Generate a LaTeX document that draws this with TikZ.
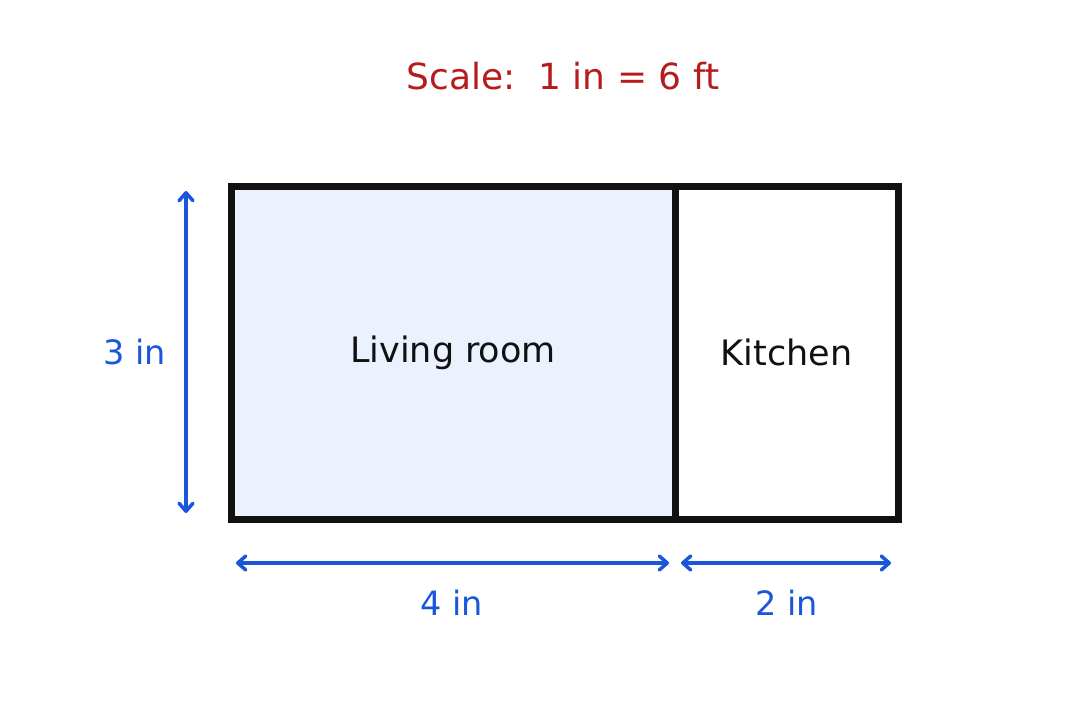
\documentclass[tikz,border=0pt]{standalone}
\usepackage{fontspec}
\setmainfont{DejaVu Sans}
\usetikzlibrary{arrows.meta}
\definecolor{scalered}{HTML}{B71C1C}
\definecolor{dimblue}{HTML}{1A56DB}
\definecolor{roomfill}{HTML}{EBF2FD}
\definecolor{wallblack}{HTML}{111111}
\tikzset{
  room/.style={draw=wallblack,line width=7pt,minimum height=333pt,inner sep=0pt,text=wallblack,font=\fontsize{35}{42}\selectfont},
  dimline/.style={draw=dimblue,line width=3.5pt,{Straight Barb[length=8pt,width=14pt,line width=3.5pt,round]}-{Straight Barb[length=8pt,width=14pt,line width=3.5pt,round]}},
  dimlabel/.style={text=dimblue,font=\fontsize{33.5}{40}\selectfont}
}
\begin{document}
\begin{tikzpicture}[line cap=round,line join=miter,x=1pt,y=-1pt]
	\useasboundingbox (0,0) rectangle (1073,717);
	% title
	\node[text=scalered,font=\fontsize{36}{43}\selectfont] (title) at (563,76) {Scale:\ \ 1 in = 6 ft};
	% rooms
	\node[room,fill=roomfill,minimum width=444pt] (living) at (453,352.5) {Living room};
	\node[room,minimum width=223pt] (kitchen) at (786.5,352.5) {Kitchen};
	% dimension lines
	\coordinate (vtop) at (186,191);
	\coordinate (vbot) at (186,513);
	\coordinate (la) at (236,563);
	\coordinate (lb) at (669,563);
	\coordinate (ka) at (681,563);
	\coordinate (kb) at (891,563);
	\draw[dimline] (vtop) -- (vbot);
	\draw[dimline] (la) -- (lb);
	\draw[dimline] (ka) -- (kb);
	\node[dimlabel] (hlabel) at (135,352) {3 in};
	\node[dimlabel] (llabel) at (452,603) {4 in};
	\node[dimlabel] (klabel) at (787,603) {2 in};
\end{tikzpicture}
\end{document}
